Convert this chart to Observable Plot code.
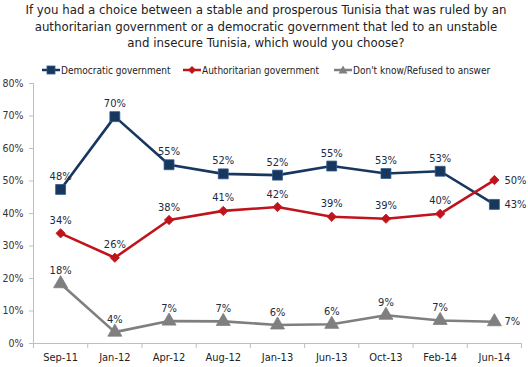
<!DOCTYPE html>
<html><head><meta charset="utf-8">
<script src="https://cdn.jsdelivr.net/npm/d3@7"></script>
<script src="https://cdn.jsdelivr.net/npm/@observablehq/plot@0.6"></script>
<style>
body{margin:0;background:#fff;font-family:"DejaVu Sans Condensed","DejaVu Sans",sans-serif;}
#wrap{position:relative;width:528px;height:367px;}
#title{position:absolute;left:0;top:2px;width:532px;text-align:center;font-size:13.1px;line-height:16.5px;color:#222;}
#legend{position:absolute;top:63px;left:0;width:528px;height:16px;font-size:10px;color:#222;z-index:2;}
.li{position:absolute;top:0;display:flex;align-items:center;white-space:nowrap;}
.li svg{margin-right:1px;}
#chart{position:absolute;left:0;top:60px;}
</style></head>
<body><div id="wrap">
<div id="title">If you had a choice between a stable and prosperous Tunisia that was ruled by an<br>authoritarian government or a democratic government that led to an unstable<br>and insecure Tunisia, which would you choose?</div>
<div id="legend"></div>
<div id="chart"></div>
</div>
<script>
const categories = ["Sep-11","Jan-12","Apr-12","Aug-12","Jan-13","Jun-13","Oct-13","Feb-14","Jun-14"];
const seriesNames = ["Democratic government","Authoritarian government","Don't know/Refused to answer"];
const democratic = [47.4, 69.8, 55.0, 52.2, 51.8, 54.6, 52.3, 53.0, 42.8];
const authoritarian = [33.9, 26.4, 38.0, 40.8, 42.0, 39.0, 38.4, 39.9, 50.3];
const dontKnow = [18.4, 3.5, 6.9, 6.8, 5.7, 5.9, 8.7, 7.1, 6.7];
const democraticLabels = ["48%","70%","55%","52%","52%","55%","53%","53%","43%"];
const authoritarianLabels = ["34%","26%","38%","41%","42%","39%","39%","40%","50%"];
const dontKnowLabels = ["18%","4%","7%","7%","6%","6%","9%","7%","7%"];
const yTicks = [0,10,20,30,40,50,60,70,80];

const colors = ["#17375E","#C0141C","#7F7F7F"];
const symbols = ["square","diamond2","triangle"];
const sizes = [5.6, 4.2, 5.2];

const vals = [democratic, authoritarian, dontKnow];
const labs = [democraticLabels, authoritarianLabels, dontKnowLabels];
const data = [];
vals.forEach((arr, s) => arr.forEach((v, i) => data.push({s, series: seriesNames[s], i, v, label: labs[s][i]})));
const last = categories.length - 1;

const marks = [
  Plot.ruleX([-0.5], {stroke: "#BFBFBF", strokeWidth: 1}),
  Plot.ruleY([0], {stroke: "#BFBFBF", strokeWidth: 1}),
  Plot.axisY({ticks: yTicks, tickFormat: d => d + "%", tickSize: 4, tickPadding: 6, stroke: "#BFBFBF", fontSize: 10.5, color: "#333", label: null}),
  Plot.axisX({ticks: d3.range(-0.5, categories.length, 1), tickFormat: () => "", tickSize: 5, stroke: "#BFBFBF", label: null}),
  Plot.axisX({ticks: d3.range(categories.length), tickFormat: i => categories[i], tickSize: 0, tickPadding: 10, fontSize: 11, color: "#222", label: null})
];
for (let s = 0; s < 3; s++) {
  const d = data.filter(r => r.s === s);
  marks.push(Plot.lineY(d, {x: "i", y: "v", stroke: colors[s], strokeWidth: 2.6}));
}
for (let s = 2; s >= 0; s--) {
  const d = data.filter(r => r.s === s);
  marks.push(Plot.dot(d, {x: "i", y: "v", symbol: () => symbols[s], fill: colors[s], stroke: s === 0 ? "#2E5A8A" : colors[s], strokeWidth: 0.8, r: sizes[s]}));
}
for (let s = 0; s < 3; s++) {
  const d = data.filter(r => r.s === s);
  marks.push(Plot.text(d.filter(r => r.i !== last), {x: "i", y: "v", text: "label", dy: -13, fontSize: 11, fill: "#1A2B40"}));
  marks.push(Plot.text(d.filter(r => r.i === last), {x: "i", y: "v", text: "label", dx: 10, textAnchor: "start", fontSize: 11, fill: "#1A2B40"}));
}

const chart = Plot.plot({
  width: 528, height: 307,
  marginLeft: 33, marginRight: 7, marginTop: 23, marginBottom: 24,
  style: {fontFamily: '"DejaVu Sans Condensed","DejaVu Sans",sans-serif', background: "transparent", overflow: "visible"},
  x: {domain: [-0.5, categories.length - 0.5], axis: null},
  y: {domain: [0, 80], axis: null},
  marks
});
document.getElementById("chart").appendChild(chart);

// legend
const legendX = [42, 183, 334];
const leg = document.getElementById("legend");
const symPaths = [
  '<rect x="5" y="3" width="8" height="8" fill="#17375E" stroke="#2E5A8A" stroke-width="0.8"/>',
  '<path d="M9 3 L13 7 L9 11 L5 7 Z" fill="#C0141C"/>',
  '<path d="M9 2.5 L13.5 10.5 L4.5 10.5 Z" fill="#7F7F7F"/>'
];
seriesNames.forEach((n, s) => {
  const el = document.createElement("div");
  el.className = "li";
  el.style.left = legendX[s] + "px";
  el.innerHTML = `<svg width="18" height="14"><line x1="0" y1="7" x2="18" y2="7" stroke="${colors[s]}" stroke-width="2.5"/>${symPaths[s]}</svg><span>${n}</span>`;
  leg.appendChild(el);
});
</script>
</body></html>
